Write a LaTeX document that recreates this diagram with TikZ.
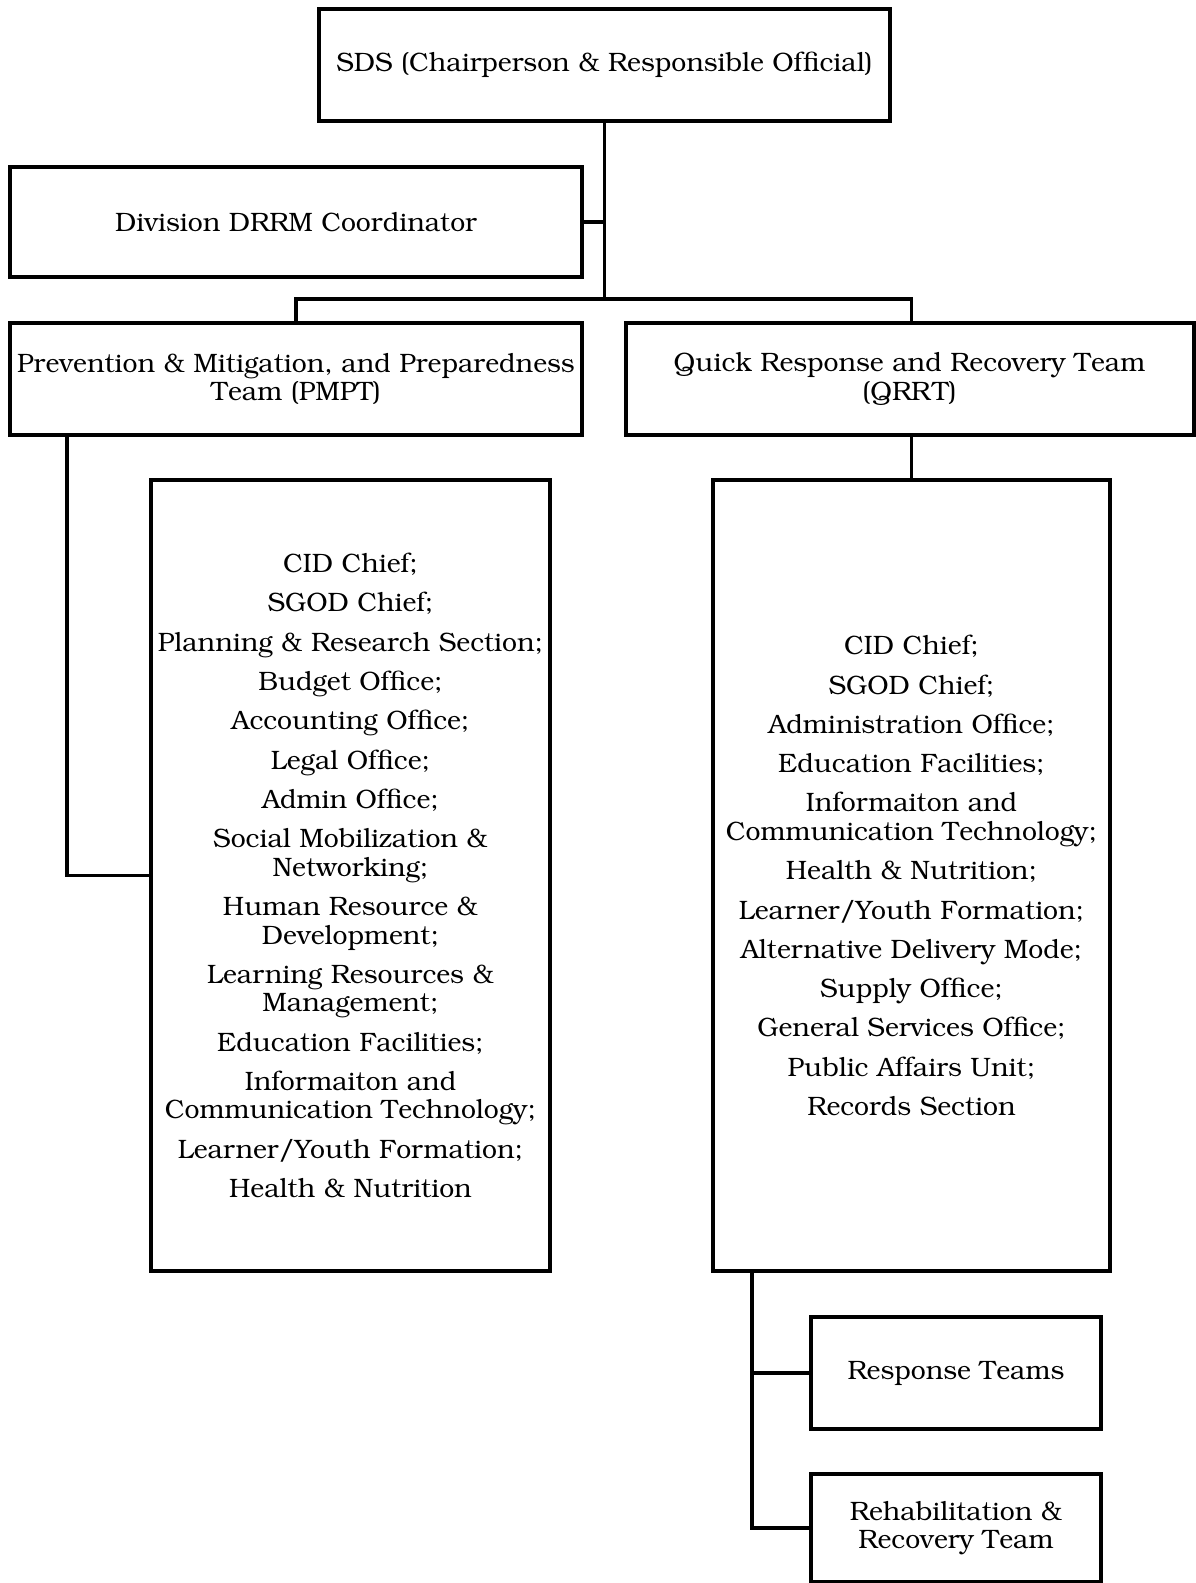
\documentclass[tikz,border=0pt]{standalone}
\usepackage[T1]{fontenc}
\usepackage{bookman}
\usetikzlibrary{positioning}
\tikzset{
  box/.style={draw=black, line width=4pt, fill=none, rectangle, inner sep=0pt,
    align=center, font=\fontsize{26.6}{28.5}\selectfont},
  conn/.style={draw=black, line width=3.5pt},
}
\begin{document}
\begin{tikzpicture}[x=1pt,y=-1pt]
\useasboundingbox (0,0) rectangle (1195,1583);
% boxes
\node[box, minimum width=571pt, minimum height=112pt] (sds) at (604.5,65)
  {SDS (Chairperson \& Responsible Official)};
\node[box, minimum width=572pt, minimum height=110pt] (div) at (296,222)
  {Division DRRM Coordinator};
\node[box, minimum width=572pt, minimum height=112pt] (pmpt) at (296,379)
  {Prevention \& Mitigation, and Preparedness\\Team (PMPT)};
\node[box, minimum width=568pt, minimum height=112pt] (qrrt) at (909.5,379)
  {Quick Response and Recovery Team\\(QRRT)};
\node[box, minimum width=399pt, minimum height=791pt] (llist) at (350.5,875.5)
  {CID Chief;\\[10.8pt]
   SGOD Chief;\\[10.8pt]
   Planning \& Research Section;\\[10.8pt]
   Budget Office;\\[10.8pt]
   Accounting Office;\\[10.8pt]
   Legal Office;\\[10.8pt]
   Admin Office;\\[10.8pt]
   Social Mobilization \&\\Networking;\\[10.8pt]
   Human Resource \&\\Development;\\[10.8pt]
   Learning Resources \&\\Management;\\[10.8pt]
   Education Facilities;\\[10.8pt]
   Informaiton and\\Communication Technology;\\[10.8pt]
   Learner/Youth Formation;\\[10.8pt]
   Health \& Nutrition};
\node[box, minimum width=397pt, minimum height=791pt] (rlist) at (911.5,875.5)
  {CID Chief;\\[10.8pt]
   SGOD Chief;\\[10.8pt]
   Administration Office;\\[10.8pt]
   Education Facilities;\\[10.8pt]
   Informaiton and\\Communication Technology;\\[10.8pt]
   Health \& Nutrition;\\[10.8pt]
   Learner/Youth Formation;\\[10.8pt]
   Alternative Delivery Mode;\\[10.8pt]
   Supply Office;\\[10.8pt]
   General Services Office;\\[10.8pt]
   Public Affairs Unit;\\[10.8pt]
   Records Section};
\node[box, minimum width=290pt, minimum height=112pt] (resp) at (956,1373)
  {Response Teams};
\node[box, minimum width=290pt, minimum height=108pt] (rehab) at (956,1528)
  {Rehabilitation \&\\Recovery Team};
% junction coordinates
\coordinate (bus) at (604.5,299);
\coordinate (pl) at (67,435);
\coordinate (rb) at (752,1271);
\coordinate (qtop) at (rlist.north |- qrrt.north);
\coordinate (qbot) at (rlist.north |- qrrt.south);
% connectors
\draw[conn] (sds.south) -- (bus);
\draw[conn] (div.east) -- (div.east -| bus);
\draw[conn] (pmpt.north) |- (bus) -| (qtop);
\draw[conn] (pl) |- (llist.west);
\draw[conn] (qbot) -- (rlist.north);
\draw[conn] (rb) |- (rehab.west);
\draw[conn] (rb |- resp.west) -- (resp.west);
\end{tikzpicture}
\end{document}
